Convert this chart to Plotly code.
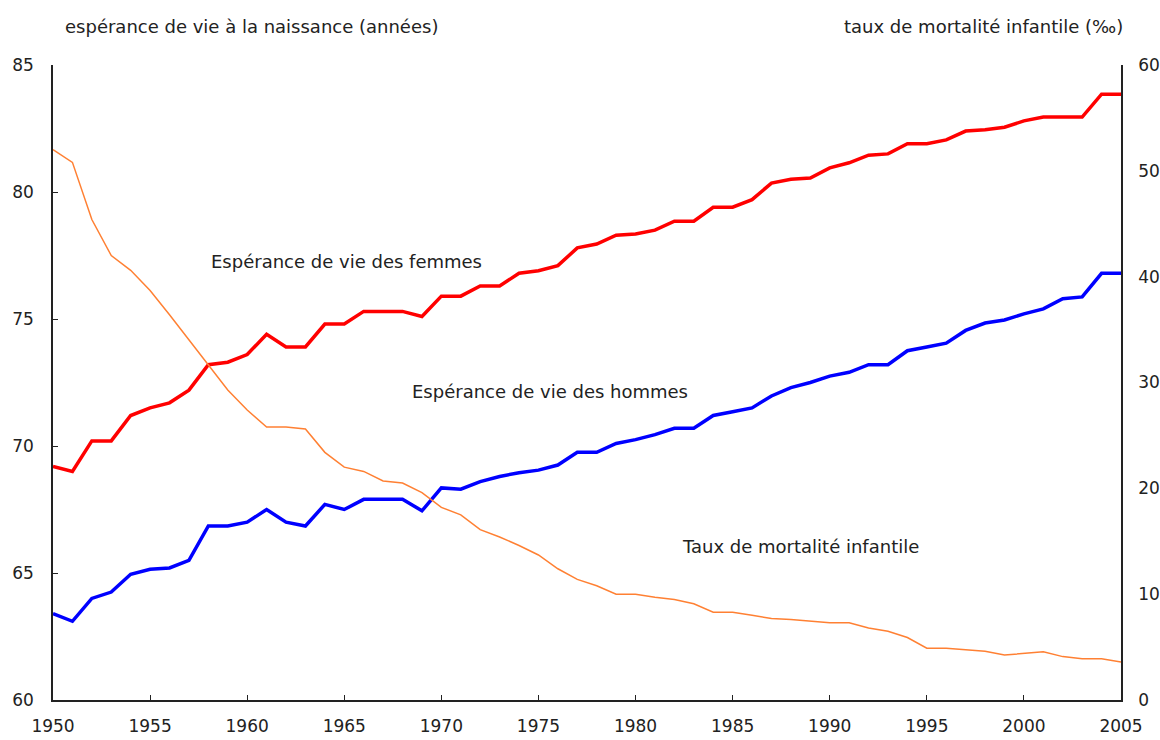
import plotly.graph_objects as go

years = list(range(1950, 2006))

femmes = [69.2, 69.0, 70.2, 70.2, 71.2, 71.5, 71.7, 72.2, 73.2, 73.3,
          73.6, 74.4, 73.9, 73.9, 74.8, 74.8, 75.3, 75.3, 75.3, 75.1,
          75.9, 75.9, 76.3, 76.3, 76.8, 76.9, 77.1, 77.8, 77.95, 78.3,
          78.35, 78.5, 78.85, 78.85, 79.4, 79.4, 79.7, 80.35, 80.5, 80.55,
          80.95, 81.15, 81.45, 81.5, 81.9, 81.9, 82.05, 82.4, 82.45, 82.55,
          82.8, 82.95, 82.95, 82.95, 83.85, 83.85]

hommes = [63.4, 63.1, 64.0, 64.25, 64.95, 65.15, 65.2, 65.5, 66.85, 66.85,
          67.0, 67.5, 67.0, 66.85, 67.7, 67.5, 67.9, 67.9, 67.9, 67.45,
          68.35, 68.3, 68.6, 68.8, 68.95, 69.05, 69.25, 69.75, 69.75, 70.1,
          70.25, 70.45, 70.7, 70.7, 71.2, 71.35, 71.5, 71.97, 72.3, 72.5,
          72.75, 72.9, 73.2, 73.2, 73.75, 73.9, 74.05, 74.55, 74.84, 74.96,
          75.2, 75.4, 75.8, 75.87, 76.8, 76.8]

mortalite = [52.0, 50.8, 45.4, 42.0, 40.6, 38.7, 36.4, 34.0, 31.6, 29.3,
             27.4, 25.8, 25.8, 25.6, 23.4, 22.0, 21.6, 20.7, 20.5, 19.6,
             18.2, 17.5, 16.1, 15.4, 14.6, 13.7, 12.4, 11.4, 10.8, 10.0,
             10.0, 9.7, 9.5, 9.1, 8.3, 8.3, 8.0, 7.7, 7.6, 7.45,
             7.3, 7.3, 6.8, 6.5, 5.9, 4.9, 4.9, 4.75, 4.6, 4.25,
             4.4, 4.55, 4.1, 3.9, 3.9, 3.6]

x_ticks = [1950, 1955, 1960, 1965, 1970, 1975, 1980, 1985, 1990, 1995, 2000, 2005]

FONT = "DejaVu Sans, Liberation Sans, sans-serif"
TXT = "#222222"
L, R, T, B = 53, 39, 65, 40
W, H = 1160, 740

fig = go.Figure()
fig.add_trace(go.Scatter(x=years, y=mortalite, yaxis="y2", mode="lines",
                         line=dict(color="#FF8033", width=1.5), name="Taux de mortalité infantile"))
fig.add_trace(go.Scatter(x=years, y=femmes, mode="lines",
                         line=dict(color="#FF0000", width=3.5), name="Espérance de vie des femmes"))
fig.add_trace(go.Scatter(x=years, y=hommes, mode="lines",
                         line=dict(color="#0000FF", width=3.5), name="Espérance de vie des hommes"))

fig.update_layout(
    width=W, height=H,
    margin=dict(l=L, r=R, t=T, b=B),
    paper_bgcolor="white", plot_bgcolor="white",
    showlegend=False,
    font=dict(family=FONT, size=17, color=TXT),
    xaxis=dict(range=[1950, 2005], tickvals=x_ticks, showgrid=False, zeroline=False,
               showline=True, linecolor="#222222", linewidth=1.5, automargin=False,
               ticks="inside", ticklen=5, tickcolor="#222222",
               tickfont=dict(size=17, color=TXT), ticklabelstandoff=10),
    yaxis=dict(range=[60, 85], dtick=5, showgrid=False, zeroline=False,
               showline=True, linecolor="#222222", linewidth=1.5, automargin=False,
               ticks="inside", ticklen=5, tickcolor="#222222",
               tickfont=dict(size=17, color=TXT), ticklabelstandoff=14),
    yaxis2=dict(range=[0, 60], dtick=10, overlaying="y", side="right",
                showgrid=False, zeroline=False, automargin=False,
                showline=True, linecolor="#222222", linewidth=1.5,
                ticks="", tickfont=dict(size=17, color=TXT), ticklabelstandoff=12),
)

fig.add_annotation(x=1965.1, y=77.28, xref="x", yref="y", text="Espérance de vie des femmes",
                   showarrow=False, font=dict(size=18, color=TXT))
fig.add_annotation(x=1975.6, y=72.13, xref="x", yref="y", text="Espérance de vie des hommes",
                   showarrow=False, font=dict(size=18, color=TXT))
fig.add_annotation(x=1988.5, y=66.06, xref="x", yref="y", text="Taux de mortalité infantile",
                   showarrow=False, font=dict(size=18, color=TXT))

def px_to_paper(px, py):
    return (px - L) / (W - L - R), (H - py - B) / (H - T - B)

lx, ly = px_to_paper(63, 27)
fig.add_annotation(x=lx, y=ly, xref="paper", yref="paper", text="espérance de vie à la naissance (années)",
                   showarrow=False, xanchor="left", yanchor="middle", font=dict(size=18, color=TXT))
rx, ry = px_to_paper(1125, 27)
fig.add_annotation(x=rx, y=ry, xref="paper", yref="paper", text="taux de mortalité infantile (‰)",
                   showarrow=False, xanchor="right", yanchor="middle", font=dict(size=18, color=TXT))

fig.write_html("out.html", config={"displayModeBar": False},
               post_script="document.body.style.margin='0';document.body.style.padding='0';")
